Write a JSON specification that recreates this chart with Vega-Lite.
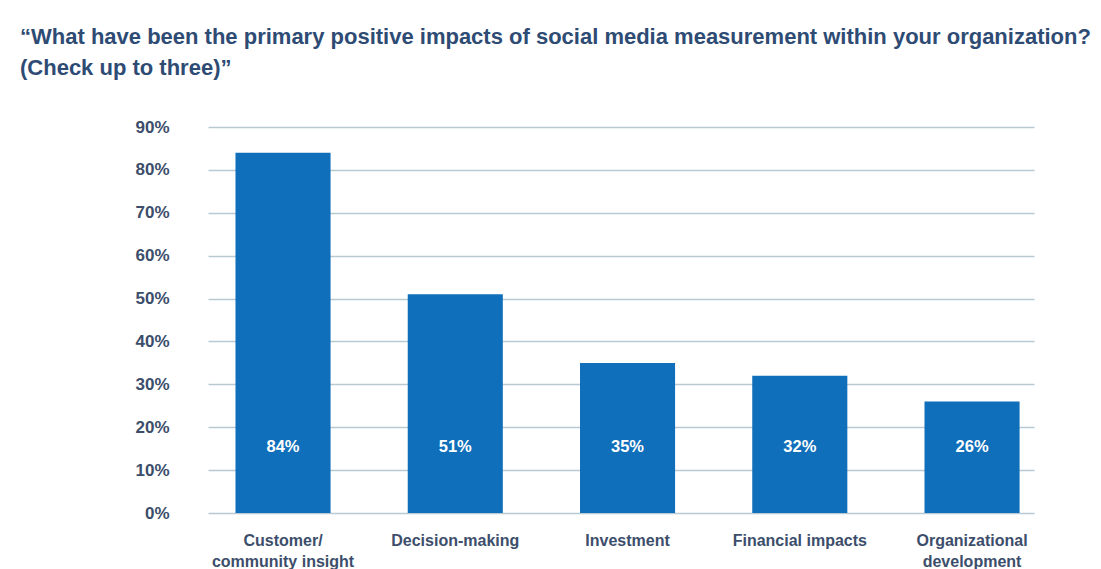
{
  "$schema": "https://vega.github.io/schema/vega-lite/v6.json",
  "autosize": {"type": "none"},
  "width": 826,
  "height": 386,
  "padding": {"left": 208, "top": 127, "right": 67, "bottom": 56},
  "background": "white",
  "title": {
    "text": ["“What have been the primary positive impacts of social media measurement within your organization?", "(Check up to three)”"],
    "anchor": "start",
    "frame": "group",
    "dx": -188,
    "offset": 38,
    "font": "Liberation Sans",
    "fontSize": 22,
    "fontWeight": "bold",
    "color": "#2e4b74",
    "lineHeight": 31
  },
  "data": {
    "values": [
      {"impact": "Customer/\ncommunity insight", "pct": 84},
      {"impact": "Decision-making", "pct": 51},
      {"impact": "Investment", "pct": 35},
      {"impact": "Financial impacts", "pct": 32},
      {"impact": "Organizational\ndevelopment", "pct": 26}
    ]
  },
  "encoding": {
    "x": {
      "field": "impact",
      "type": "nominal",
      "sort": null,
      "scale": {"paddingInner": 0.448, "paddingOuter": 0.1216, "align": 0.656},
      "axis": {
        "title": null,
        "labelAngle": 0,
        "domain": false,
        "ticks": false,
        "labelExpr": "split(datum.label, '\\n')",
        "labelFont": "Liberation Sans",
        "labelFontSize": 16,
        "labelFontWeight": "bold",
        "labelColor": "#3c4e6b",
        "labelPadding": 19,
        "labelLineHeight": 21,
        "labelBaseline": "top"
      }
    }
  },
  "layer": [
    {
      "mark": {"type": "bar", "color": "#0f6fba"},
      "encoding": {
        "y": {
          "field": "pct",
          "type": "quantitative",
          "scale": {"domain": [0, 90]},
          "axis": {
            "title": null,
            "values": [0, 10, 20, 30, 40, 50, 60, 70, 80, 90],
            "labelExpr": "datum.value + '%'",
            "domain": false,
            "ticks": false,
            "grid": true,
            "gridColor": "#b9c9d3",
            "gridWidth": 1.5,
            "labelFont": "Liberation Sans",
            "labelFontSize": 17,
            "labelFontWeight": "bold",
            "labelColor": "#3c4e6b",
            "labelPadding": 39
          }
        }
      }
    },
    {
      "transform": [{"calculate": "datum.pct + '%'", "as": "label"}],
      "mark": {"type": "text", "color": "white", "font": "Liberation Sans", "fontSize": 16.5, "fontWeight": "bold", "baseline": "middle"},
      "encoding": {
        "y": {"datum": 15.5, "type": "quantitative"},
        "text": {"field": "label", "type": "nominal"}
      }
    }
  ],
  "config": {"view": {"stroke": null}}
}
